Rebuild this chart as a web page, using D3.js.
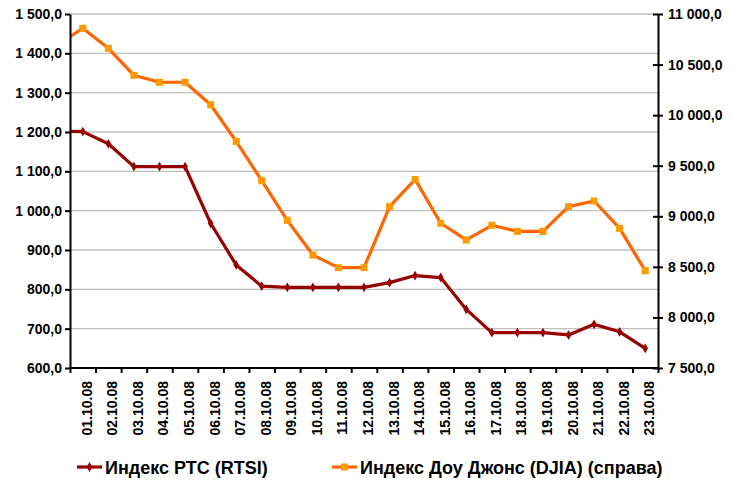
<!DOCTYPE html>
<html><head><meta charset="utf-8">
<script src="https://cdn.jsdelivr.net/npm/d3@7"></script>
<style>
html,body{margin:0;padding:0;background:#fff;}
svg{display:block;}
text{font-family:"Liberation Sans",Arial,sans-serif;font-weight:bold;fill:#000;}
</style></head>
<body>
<svg id="chart" width="733" height="483"></svg>
<script>
const categories = ["01.10.08","02.10.08","03.10.08","04.10.08","05.10.08","06.10.08","07.10.08","08.10.08","09.10.08","10.10.08","11.10.08","12.10.08","13.10.08","14.10.08","15.10.08","16.10.08","17.10.08","18.10.08","19.10.08","20.10.08","21.10.08","22.10.08","23.10.08"];
// value of the day before the first category (line enters from the left axis)
const rtsiPrev = 1202;
const djiaPrev = 10692;
const rtsi = [1201,1170,1112,1112,1112,968,862,808,805,805,805,805,817,835,830,749,690,690,690,684,711,692,650];
const djia = [10859,10661,10394,10325,10325,10103,9740,9352,8960,8617,8492,8492,9095,9365,8931,8766,8911,8851,8851,9095,9151,8880,8462];
const leftTicks = [600,700,800,900,1000,1100,1200,1300,1400,1500];
const rightTicks = [7500,8000,8500,9000,9500,10000,10500,11000];
const seriesNames = ["Индекс РТС (RTSI)","Индекс Доу Джонс (DJIA) (справа)"];

const svg = d3.select("#chart");
const L = 70, R = 658, T = 14, B = 368;
const loc = d3.formatLocale({decimal:",", thousands:"\u00a0", grouping:[3], currency:["",""]});
const fmt = loc.format(",.1f");

const x = d3.scaleLinear().domain([-0.5, categories.length - 0.5]).range([L, R]);
const yL = d3.scaleLinear().domain([600,1500]).range([B, T]);
const yR = d3.scaleLinear().domain([7500,11000]).range([B, T]);

// gridlines
svg.append("g").selectAll("line").data(leftTicks).join("line")
  .attr("x1", L).attr("x2", R).attr("y1", d=>yL(d)).attr("y2", d=>yL(d))
  .attr("stroke", "#c0c0c0").attr("stroke-width", 1.3);

// clip
svg.append("clipPath").attr("id","plot").append("rect")
  .attr("x", L).attr("y", T-10).attr("width", R-L+10).attr("height", B-T+20);

const idx = d3.range(-1, categories.length);
const rVals = [rtsiPrev, ...rtsi];
const dVals = [djiaPrev, ...djia];

const g = svg.append("g").attr("clip-path","url(#plot)");
const lineR = d3.line().x((d,i)=>x(idx[i])).y(d=>yL(d));
const lineD = d3.line().x((d,i)=>x(idx[i])).y(d=>yR(d));

const cR = "#990000", cD = "#ff6600", cDm = "#ff9900";

g.append("path").datum(dVals).attr("d", lineD).attr("fill","none")
  .attr("stroke", cD).attr("stroke-width", 3.2).attr("stroke-linejoin","round");
g.append("path").datum(rVals).attr("d", lineR).attr("fill","none")
  .attr("stroke", cR).attr("stroke-width", 3.2).attr("stroke-linejoin","round");

const diamond = d3.symbol().type(d3.symbolDiamond).size(28);
svg.append("g").selectAll("path").data(rtsi).join("path")
  .attr("d", diamond).attr("transform",(d,i)=>`translate(${x(i)},${yL(d)})`)
  .attr("fill", cR);
svg.append("g").selectAll("rect").data(djia).join("rect")
  .attr("x",(d,i)=>x(i)-3.5).attr("y",d=>yR(d)-3.5).attr("width",7).attr("height",7)
  .attr("fill", cDm);

// axes
const axL = svg.append("g").attr("transform",`translate(${L},0)`)
  .call(d3.axisLeft(yL).tickValues(leftTicks).tickFormat(fmt).tickSizeInner(5).tickSizeOuter(0).tickPadding(3));
const axR = svg.append("g").attr("transform",`translate(${R},0)`)
  .call(d3.axisRight(yR).tickValues(rightTicks).tickFormat(fmt).tickSizeInner(5).tickSizeOuter(0).tickPadding(5));
axR.selectAll(".tick line").attr("x1",-5);
const bounds = d3.range(0, categories.length + 1).map(i => i - 0.5);
const axB = svg.append("g").attr("transform",`translate(0,${B})`)
  .call(d3.axisBottom(x).tickValues(bounds).tickFormat("").tickSizeInner(5).tickSizeOuter(0));
[axL, axR, axB].forEach(a => {
  a.select(".domain").attr("stroke","#000").attr("stroke-width",2);
  a.selectAll(".tick line").attr("stroke","#000").attr("stroke-width",2);
  a.selectAll(".tick text").style("font-size","14px").style("font-family","'Liberation Sans',Arial,sans-serif").style("font-weight","bold");
});
axB.select(".domain").attr("d", `M${L-1},0H${R+1}`);

// x labels
svg.append("g").selectAll("text").data(categories).join("text")
  .attr("transform",(d,i)=>`translate(${x(i)+9},381) rotate(-90)`)
  .attr("text-anchor","end").style("font-size","14px").text(d=>d);

// legend
const leg = svg.append("g");
function legendItem(x0, color, mcolor, shape, label) {
  const gi = leg.append("g");
  gi.append("line").attr("x1", x0).attr("x2", x0+25).attr("y1", 467).attr("y2", 467)
    .attr("stroke", color).attr("stroke-width", 3.2);
  if (shape === "d") {
    gi.append("path").attr("d", diamond).attr("transform",`translate(${x0+12.5},467)`).attr("fill", mcolor);
  } else {
    gi.append("rect").attr("x", x0+9).attr("y", 463.5).attr("width",7).attr("height",7).attr("fill", mcolor);
  }
  gi.append("text").attr("x", x0+28).attr("y", 474)
    .style("font-size","18px").text(label);
}
legendItem(77, cR, cR, "d", seriesNames[0]);
legendItem(332, cD, cDm, "s", seriesNames[1]);
</script>
</body></html>
